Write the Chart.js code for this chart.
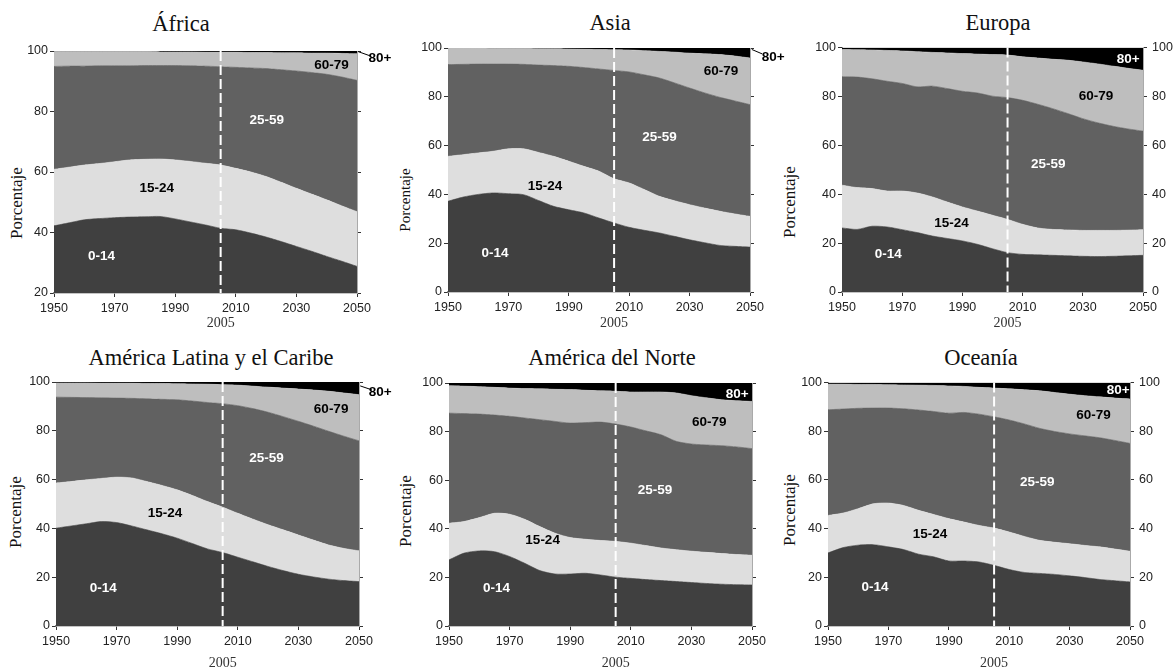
<!DOCTYPE html>
<html>
<head>
<meta charset="utf-8">
<script src="https://cdn.jsdelivr.net/npm/chart.js@4.4.1/dist/chart.umd.min.js"></script>
<style>
  html, body { margin:0; padding:0; background:#fff; width:1174px; height:668px; overflow:hidden; }
  canvas { position:absolute; }
  svg { position:absolute; left:0; top:0; }
</style>
</head>
<body>
<svg id="txt" width="1174" height="668"></svg>
<script>
// ---------------- DATA ----------------
// Years (every 5 years)
const years = [1950,1955,1960,1965,1970,1975,1980,1985,1990,1995,2000,2005,2010,2015,2020,2025,2030,2035,2040,2045,2050];
const xTickLabels = [1950,1970,1990,2010,2030,2050];
const yTicksFull = [0,20,40,60,80,100];
const yTicksAfrica = [20,40,60,80,100];
const ageGroups = ['0-14','15-24','25-59','60-79','80+'];

// Cumulative percentage (upper edge of each age band)
// África
const afr_upto14 = [42.2,43.2,44.2,44.6,44.9,45.1,45.2,45.3,44.5,43.5,42.5,41.4,40.9,39.8,38.5,37.0,35.4,33.8,32.1,30.5,28.8];
const afr_upto24 = [60.9,61.6,62.3,62.8,63.4,64.0,64.2,64.3,64.0,63.5,62.9,62.3,61.2,60.0,58.5,56.6,54.6,52.7,50.8,48.8,46.9];
const afr_upto59 = [94.9,95.0,95.0,95.1,95.1,95.1,95.2,95.2,95.2,95.1,95.0,94.8,94.6,94.4,94.2,93.8,93.4,92.9,92.3,91.4,90.3];
const afr_upto79 = [99.8,99.8,99.8,99.8,99.8,99.8,99.8,99.7,99.7,99.7,99.6,99.6,99.6,99.5,99.5,99.4,99.4,99.3,99.3,99.2,99.1];
// Asia
const asi_upto14 = [37.2,38.9,40.0,40.6,40.3,39.9,37.5,35.1,33.7,32.4,30.3,28.3,26.5,25.3,24.2,22.8,21.4,20.2,19.1,18.7,18.4];
const asi_upto24 = [55.6,56.3,57.0,57.7,58.7,58.7,57.2,55.6,53.6,51.5,49.5,46.4,44.7,42.0,39.2,37.4,35.8,34.4,33.1,32.0,31.0];
const asi_upto59 = [93.2,93.3,93.4,93.4,93.4,93.3,93.0,92.8,92.5,92.0,91.4,90.8,90.2,89.0,87.7,85.7,83.6,81.6,79.8,78.3,76.8];
const asi_upto79 = [99.9,99.9,99.9,99.8,99.8,99.8,99.7,99.7,99.6,99.5,99.4,99.3,99.2,98.9,98.6,98.3,97.9,97.6,97.3,96.7,95.9];
// Europa
const eur_upto14 = [26.2,25.6,26.9,26.6,25.5,24.3,22.9,21.9,20.9,19.5,17.7,16.1,15.4,15.2,15.0,14.8,14.6,14.5,14.6,14.8,15.0];
const eur_upto24 = [43.7,42.7,42.3,41.3,41.3,40.5,38.9,36.8,34.8,33.1,31.4,29.7,27.7,26.2,25.6,25.4,25.2,25.2,25.2,25.3,25.5];
const eur_upto59 = [88.0,87.9,87.2,86.2,85.3,83.9,84.2,83.2,82.1,81.4,80.1,79.5,78.4,76.8,75.0,73.0,70.9,69.2,67.8,66.7,65.8];
const eur_upto79 = [99.2,99.1,99.0,98.8,98.6,98.3,98.0,97.8,97.5,97.3,97.1,96.9,96.2,95.7,95.2,94.8,94.1,93.3,92.4,91.5,90.7];
// América Latina y el Caribe
const lat_upto14 = [40.1,41.0,41.9,42.8,42.4,41.0,39.4,37.8,36.0,33.8,31.6,30.1,28.2,26.3,24.4,22.7,21.2,20.1,19.2,18.6,18.2];
const lat_upto24 = [58.6,59.2,59.9,60.5,61.0,60.7,59.2,57.6,55.8,53.5,51.0,48.7,46.2,43.8,41.5,39.4,37.3,35.2,33.2,31.8,30.8];
const lat_upto59 = [93.8,93.7,93.6,93.5,93.4,93.3,93.1,92.9,92.7,92.2,91.6,91.1,90.3,89.1,87.6,85.8,83.9,81.9,79.8,77.8,75.9];
const lat_upto79 = [99.6,99.6,99.6,99.5,99.5,99.5,99.4,99.4,99.3,99.2,99.1,98.9,98.7,98.3,97.9,97.5,97.1,96.7,96.2,95.5,94.8];
// América del Norte
const nam_upto14 = [27.2,30.0,30.9,30.6,28.6,25.8,22.8,21.4,21.4,21.7,21.0,20.1,19.6,19.1,18.7,18.3,17.9,17.5,17.2,17.0,16.9];
const nam_upto24 = [42.3,43.0,44.6,46.4,46.0,43.9,40.9,38.2,36.4,35.7,35.2,34.8,34.1,33.1,32.1,31.4,30.8,30.3,29.8,29.4,29.1];
const nam_upto59 = [87.6,87.4,87.2,86.8,86.3,85.6,84.9,84.2,83.5,83.7,83.9,83.1,81.9,80.3,78.7,76.0,74.9,74.5,74.2,73.7,73.0];
const nam_upto79 = [98.9,98.7,98.5,98.2,97.9,97.7,97.6,97.4,97.3,97.0,96.8,96.6,96.3,96.3,96.3,95.9,94.8,93.9,93.1,92.7,92.4];
// Oceanía
const oce_upto14 = [30.0,32.2,33.2,33.4,32.5,31.4,29.5,28.4,26.7,26.7,26.3,24.9,23.2,22.0,21.6,21.2,20.6,19.9,19.1,18.6,18.1];
const oce_upto24 = [45.4,46.4,48.2,50.2,50.5,49.5,47.5,45.8,44.1,42.7,41.3,40.2,38.6,36.8,35.2,34.4,33.8,33.1,32.5,31.6,30.7];
const oce_upto59 = [88.8,89.1,89.4,89.5,89.5,89.2,88.7,88.1,87.4,87.7,87.0,85.9,84.6,83.0,81.2,79.9,78.9,78.1,77.3,76.2,75.0];
const oce_upto79 = [99.3,99.3,99.2,99.2,99.1,99.0,98.9,98.8,98.6,98.4,98.0,97.7,97.4,97.0,96.6,95.9,95.2,94.6,94.1,93.6,93.2];

// ---------------- LAYOUT / STYLE ----------------
const bandColors = ['#404040','#dedede','#616161','#bebebe','#000000'];
const labelColors = ['#ffffff','#000000','#ffffff','#000000'];
const SANS = '"Liberation Sans", Arial, sans-serif';
const SERIF = '"Liberation Serif", "Times New Roman", serif';

const panels = [
  { title:'África', series:[afr_upto14,afr_upto24,afr_upto59,afr_upto79], yTicks:yTicksAfrica, yMin:20,
    plot:[54,51,357,293], titleXY:[181,30.7], ytXY:[16,203], ytSize:17, rightLabels:false, yearDy:30,
    lab:[[1965.7,32.2],[1983.9,54.6],[2020.2,77.2],[2041.6,95.4]], out80:[2057.6,97.6], lead:[[2050.4,99.8],[2054.3,98.4]] },
  { title:'Asia', series:[asi_upto14,asi_upto24,asi_upto59,asi_upto79], yTicks:yTicksFull, yMin:0,
    plot:[448,48,750,292], titleXY:[610,30], ytXY:[405,200], ytSize:15, rightLabels:false, yearDy:31,
    lab:[[1965.6,15.9],[1982.1,43.4],[2020,63.6],[2040.4,90.6]], out80:[2057.7,96.4], lead:[[2050.6,99.4],[2054,97.6]] },
  { title:'Europa', series:[eur_upto14,eur_upto24,eur_upto59,eur_upto79], yTicks:yTicksFull, yMin:0,
    plot:[842,47,1143,292], titleXY:[998,30], ytXY:[789.5,202], ytSize:17, rightLabels:true, yearDy:31,
    lab:[[1965.4,15.5],[1986.4,28.0],[2018.5,52.2],[2034.4,80.1]], in80:[2045.1,95.0] },
  { title:'América Latina y el Caribe', series:[lat_upto14,lat_upto24,lat_upto59,lat_upto79], yTicks:yTicksFull, yMin:0,
    plot:[56,382,359,626], titleXY:[211,365], ytXY:[15,512], ytSize:17, rightLabels:false, yearDy:37,
    lab:[[1965.6,15.4],[1986,46.4],[2019.5,68.7],[2040.8,88.9]], out80:[2057,95.6], lead:[[2050.4,98.4],[2054.2,96.8]] },
  { title:'América del Norte', series:[nam_upto14,nam_upto24,nam_upto59,nam_upto79], yTicks:yTicksFull, yMin:0,
    plot:[449,383,752,626], titleXY:[612,365], ytXY:[405,511], ytSize:17, rightLabels:false, yearDy:37,
    lab:[[1965.7,15.5],[1980.9,35.4],[2018,56.0],[2035.9,83.7]], in80:[2045.1,95.5] },
  { title:'Oceanía', series:[oce_upto14,oce_upto24,oce_upto59,oce_upto79], yTicks:yTicksFull, yMin:0,
    plot:[828,382,1130,626], titleXY:[981,365], ytXY:[789,510], ytSize:17, rightLabels:true, yearDy:37,
    lab:[[1965.6,15.7],[1983.8,37.6],[2019.3,59.1],[2037.9,86.5]], in80:[2046.1,96.7] }
];

// ---------------- TEXT OVERLAY (titles, axis titles) ----------------
const svg = document.getElementById('txt');
const NS = 'http://www.w3.org/2000/svg';
panels.forEach(p => {
  const t = document.createElementNS(NS,'text');
  t.setAttribute('x', p.titleXY[0]); t.setAttribute('y', p.titleXY[1]);
  t.setAttribute('text-anchor','middle');
  t.setAttribute('font-family', SERIF); t.setAttribute('font-size','22.5');
  t.setAttribute('fill','#111');
  t.textContent = p.title; svg.appendChild(t);
  const yt = document.createElementNS(NS,'text');
  yt.setAttribute('x', p.ytXY[0]); yt.setAttribute('y', p.ytXY[1]);
  yt.setAttribute('text-anchor','middle'); yt.setAttribute('dominant-baseline','central');
  yt.setAttribute('transform', `rotate(-90 ${p.ytXY[0]} ${p.ytXY[1]})`);
  yt.setAttribute('font-family', SERIF); yt.setAttribute('font-size', p.ytSize);
  yt.setAttribute('fill','#111');
  yt.textContent = 'Porcentaje'; svg.appendChild(yt);
});

// ---------------- PLUGIN ----------------
const overlay = {
  id:'overlay',
  afterDatasetsDraw(chart, args, o) {
    const {ctx, chartArea:a, scales:{x, y}} = chart;
    const p = o.panel;
    ctx.save();
    const xd = x.getPixelForValue(2005);
    ctx.strokeStyle = '#ffffff'; ctx.lineWidth = 2; ctx.setLineDash([10,4]);
    ctx.beginPath(); ctx.moveTo(xd, a.top); ctx.lineTo(xd, a.bottom); ctx.stroke();
    ctx.setLineDash([]);
    ctx.font = 'bold 13.5px ' + SANS; ctx.textAlign = 'center'; ctx.textBaseline = 'middle';
    p.lab.forEach((l, i) => {
      ctx.fillStyle = labelColors[i];
      ctx.fillText(ageGroups[i], x.getPixelForValue(l[0]), y.getPixelForValue(l[1]));
    });
    if (p.in80) {
      ctx.fillStyle = '#ffffff';
      ctx.fillText(ageGroups[4], x.getPixelForValue(p.in80[0]), y.getPixelForValue(p.in80[1]));
    }
    if (p.out80) {
      ctx.fillStyle = '#000000';
      ctx.fillText(ageGroups[4], x.getPixelForValue(p.out80[0]), y.getPixelForValue(p.out80[1]));
      ctx.strokeStyle = '#000'; ctx.lineWidth = 1;
      ctx.beginPath();
      ctx.moveTo(x.getPixelForValue(p.lead[0][0]), y.getPixelForValue(p.lead[0][1]));
      ctx.lineTo(x.getPixelForValue(p.lead[1][0]), y.getPixelForValue(p.lead[1][1]));
      ctx.stroke();
    }
    ctx.font = '14px ' + SERIF; ctx.fillStyle = '#333';
    ctx.fillText('2005', xd, a.bottom + p.yearDy);
    ctx.restore();
  }
};

// ---------------- CHARTS ----------------
const PADL = 50, PADR = 50, PADT = 12, PADB = 50;
panels.forEach((p, idx) => {
  const [L, T, R, B] = p.plot;
  const cv = document.createElement('canvas');
  const w = (R - L) + PADL + PADR, h = (B - T) + PADT + PADB;
  cv.width = w; cv.height = h;
  cv.style.left = (L - PADL) + 'px'; cv.style.top = (T - PADT) + 'px';
  cv.style.width = w + 'px'; cv.style.height = h + 'px';
  document.body.appendChild(cv);

  const mk = (arr, i, fill) => ({
    label: ageGroups[i],
    data: years.map((yr, k) => ({x: yr, y: arr[k]})),
    fill: fill,
    backgroundColor: bandColors[i],
    borderColor: bandColors[i],
    borderWidth: 0.6,
    pointRadius: 0,
    tension: 0.25
  });
  const datasets = [
    mk(p.series[0], 0, 'start'),
    mk(p.series[1], 1, '-1'),
    mk(p.series[2], 2, '-1'),
    mk(p.series[3], 3, '-1'),
    Object.assign(mk(p.series[3], 4, 'end'), {borderWidth: 0})
  ];

  const yTicks = p.yTicks;
  new Chart(cv, {
    type: 'line',
    data: { datasets },
    options: {
      responsive: false, animation: false, devicePixelRatio: 1,
      layout: { padding: { top: PADT, left: 0, right: 0, bottom: 0 } },
      plugins: { legend: { display:false }, tooltip: { enabled:false }, overlay: { panel: p } },
      scales: {
        x: {
          type: 'linear', min: 1950, max: 2050,
          afterBuildTicks: s => { s.ticks = xTickLabels.map(v => ({value: v})); },
          afterFit: s => { s.height = PADB; },
          ticks: { font: { family: SANS, size: 12.5 }, color: '#222', padding: 4, maxRotation: 0, autoSkip: false,
                   callback: v => String(v) },
          grid: { drawOnChartArea: false, drawTicks: true, tickLength: 4, color: '#333', tickColor: '#333' },
          border: { display: true, color: '#8a8a8a', width: 1.5 }
        },
        y: {
          position: 'left', min: p.yMin, max: 100,
          afterBuildTicks: s => { s.ticks = yTicks.map(v => ({value: v})); },
          afterFit: s => { s.width = PADL; },
          ticks: { font: { family: SANS, size: 12.5 }, color: '#222', padding: 2, callback: v => String(v) },
          grid: { drawOnChartArea: false, drawTicks: true, tickLength: 4, color: '#333', tickColor: '#333' },
          border: { display: true, color: '#999', width: 1 }
        },
        y2: {
          position: 'right', min: p.yMin, max: 100,
          afterBuildTicks: s => { s.ticks = yTicks.map(v => ({value: v})); },
          afterFit: s => { s.width = PADR; },
          ticks: { display: p.rightLabels, font: { family: SANS, size: 12.5 }, color: '#222', padding: 5, callback: v => String(v) },
          grid: { drawOnChartArea: false, drawTicks: true, tickLength: 4, color: '#333', tickColor: '#333' },
          border: { display: true, color: '#aaa', width: 1 }
        }
      }
    },
    plugins: [overlay]
  });
});
</script>
</body>
</html>
